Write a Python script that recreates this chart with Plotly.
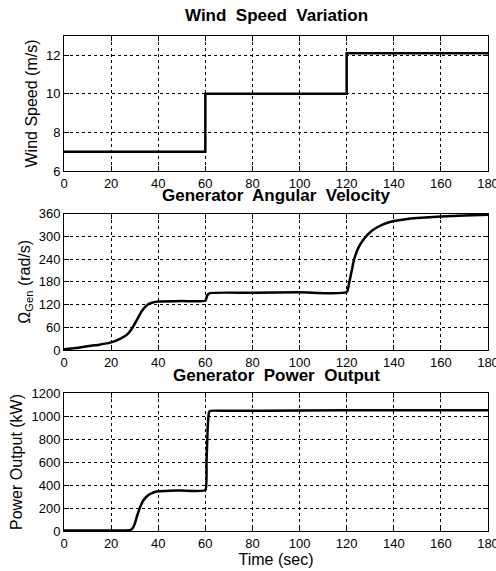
import plotly.graph_objects as go

# Wind speed step profile
wind_t = [0, 60, 60, 120, 120, 180]
wind_v = [7, 7, 10, 10, 12.1, 12.1]

# Generator angular velocity (rad/s)
omega_t = [0, 5, 10, 15, 20, 24, 27, 29, 31, 33, 35, 37, 40, 50, 60, 60.5, 61, 62, 80, 100, 120, 121, 122, 123, 124, 125, 127, 129, 131, 134, 137, 140, 145, 150, 160, 170, 180]
omega_v = [2, 5, 10, 14, 20, 30, 42, 58, 80, 102, 117, 124, 128, 129, 130, 138, 146, 150, 151, 152, 153, 175, 205, 235, 255, 270, 290, 305, 316, 327, 335, 340, 345, 348, 352, 355, 357]

# Generator power output (kW)
power_t = [0, 10, 20, 28, 29, 30, 31, 32, 33, 34, 36, 38, 40, 45, 50, 60, 60.5, 61, 61.5, 62, 70, 100, 140, 180]
power_v = [5, 5, 5, 8, 20, 60, 130, 190, 240, 275, 315, 335, 345, 350, 352, 355, 600, 900, 1030, 1045, 1045, 1048, 1050, 1050]

FONT = "Liberation Sans"
W, H = 496, 571

fig = go.Figure()
fig.add_trace(go.Scatter(x=wind_t, y=wind_v, mode="lines", line=dict(color="black", width=2.5), xaxis="x", yaxis="y"))
fig.add_trace(go.Scatter(x=omega_t, y=omega_v, mode="lines", line=dict(color="black", width=2.5, shape="spline", smoothing=0.6), xaxis="x2", yaxis="y2"))
fig.add_trace(go.Scatter(x=power_t, y=power_v, mode="lines", line=dict(color="black", width=2.5, shape="spline", smoothing=0.4), xaxis="x3", yaxis="y3"))

xdom = [64 / W, 488 / W]
def ydom(top, bot):
    return [1 - bot / H, 1 - top / H]

axis_common = dict(
    showline=True, linecolor="black", linewidth=1, mirror="ticks",
    ticks="inside", ticklen=5, tickcolor="black",
    showgrid=True, gridcolor="black", gridwidth=1, griddash="3px,3px",
    zeroline=False, tickfont=dict(family=FONT, size=13, color="black"),
    ticklabeloverflow="allow", automargin=False,
)
xtick = dict(range=[0, 180], tickvals=list(range(0, 181, 20)), domain=xdom, **axis_common)
tfont = dict(family=FONT, size=16, color="black")

fig.update_layout(
    width=W, height=H, margin=dict(l=0, r=0, t=0, b=0),
    paper_bgcolor="white", plot_bgcolor="white", showlegend=False,
    font=dict(family=FONT, color="black"),
    xaxis=dict(anchor="y", **xtick),
    yaxis=dict(anchor="x", domain=ydom(36, 171), range=[6, 13], tickvals=[6, 8, 10, 12],
               title=dict(text="Wind Speed (m/s)", font=tfont, standoff=4), **axis_common),
    xaxis2=dict(anchor="y2", **xtick),
    yaxis2=dict(anchor="x2", domain=ydom(213.5, 350), range=[0, 360], tickvals=list(range(0, 361, 60)),
                title=dict(text="Ω<sub>Gen</sub> (rad/s)", font=tfont, standoff=4), **axis_common),
    xaxis3=dict(anchor="y3", title=dict(text="Time (sec)", font=tfont, standoff=4), **xtick),
    yaxis3=dict(anchor="x3", domain=ydom(393, 531), range=[0, 1200], tickvals=list(range(0, 1201, 200)),
                title=dict(text="Power Output (kW)", font=tfont, standoff=4), **axis_common),
)

titles = [("Wind  Speed  Variation", 15), ("Generator  Angular  Velocity", 196), ("Generator  Power  Output", 376)]
for txt, ypx in titles:
    fig.add_annotation(text="<b>" + txt + "</b>", x=276 / W, y=1 - ypx / H, xref="paper", yref="paper",
                       showarrow=False, font=dict(family=FONT, size=17, color="black"), xanchor="center", yanchor="middle")

fig.write_html("out.html")
